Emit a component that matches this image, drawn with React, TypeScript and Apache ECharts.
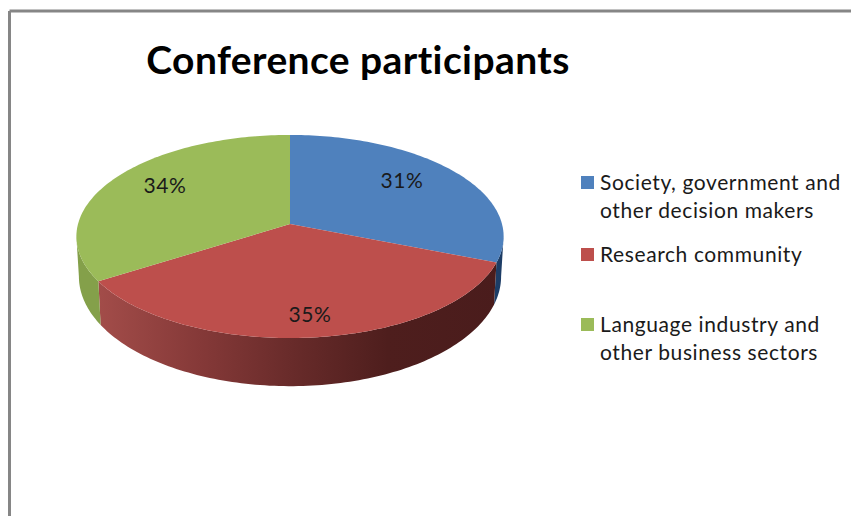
import React, { useEffect, useRef } from "react";
import * as echarts from "echarts";

const titleText = "Conference participants";
const categories = [
  "Society, government and\nother decision makers",
  "Research community",
  "Language industry and\nother business sectors",
];
const values = [31, 35, 34];
const topColors = ["#4f81bd", "#bd4f4c", "#9bbb59"];

const FONT = "Lato";
const CX = 290, AY = 224, A = 212, B = 100, K = -0.123;
const A2 = 209.5, B2 = 108, AY2 = 263;
const total = values.reduce((a, b) => a + b, 0);
const labelPos = [[402, 179], [310, 313], [165, 184]];
const legendY = [182, 254, 324];

const rim = (t: number): [number, number] => {
  const w = 1 - K * Math.cos(t);
  return [CX + (A * Math.sin(t)) / w, AY + (-B * Math.cos(t)) / w];
};
const lower = (t: number): [number, number] => {
  const w = 1 - K * Math.cos(t);
  return [CX + (A2 * Math.sin(t)) / w, AY2 + (-B2 * Math.cos(t)) / w];
};
const arcs = (i: number) => {
  const before = values.slice(0, i).reduce((a, b) => a + b, 0);
  return [(before / total) * 2 * Math.PI, ((before + values[i]) / total) * 2 * Math.PI];
};
const sample = (a: number, b: number, f: (t: number) => [number, number]) => {
  const n = Math.max(2, Math.ceil((b - a) / 0.02));
  const out: [number, number][] = [];
  for (let j = 0; j <= n; j++) out.push(f(a + ((b - a) * j) / n));
  return out;
};
const sideFills = () => [
  "#1d3d66",
  new echarts.graphic.LinearGradient(100, 0, 500, 0, [
    { offset: 0, color: "#a24c49" },
    { offset: 0.25, color: "#853938" },
    { offset: 0.5, color: "#662a29" },
    { offset: 0.72, color: "#4e1e1d" },
    { offset: 1, color: "#4a1c1c" },
  ], true),
  "#84a04a",
];

export default function App() {
  const ref = useRef<HTMLDivElement>(null);
  useEffect(() => {
    const chart = echarts.init(ref.current!, null, { renderer: "svg" });
    const fills = sideFills();
    const tR = Math.acos(K), tL = 2 * Math.PI - tR;
    const seriesData = categories.map((name, i) => ({ name, value: values[i] }));
    const legendEls: any[] = [];
    categories.forEach((c, i) => {
      legendEls.push({
        type: "rect", shape: { x: 581, y: legendY[i] - 6, width: 13, height: 13 },
        style: { fill: topColors[i] },
      });
      legendEls.push({
        type: "text", x: 600, y: legendY[i] - 15,
        style: { text: c, font: `21px ${FONT}`, lineHeight: 28, fill: "#1a1a1a", textVerticalAlign: "top" },
      });
    });
    chart.setOption({
      animation: false,
      backgroundColor: "#ffffff",
      title: {
        text: titleText, left: 353, top: 34, textAlign: "center",
        textStyle: { fontFamily: FONT, fontWeight: "bold", fontSize: 39, color: "#000000" },
      },
      graphic: [
        { type: "line", shape: { x1: 9.5, y1: 11, x2: 851, y2: 11 }, style: { stroke: "#868686", lineWidth: 3 } },
        { type: "line", shape: { x1: 9.5, y1: 11, x2: 9.5, y2: 516 }, style: { stroke: "#868686", lineWidth: 3 } },
        ...legendEls,
      ],
      series: [
        {
          type: "custom", name: "side", coordinateSystem: "none", z: 1, data: seriesData,
          renderItem: (p: any) => {
            const [a, b] = arcs(p.dataIndex);
            const s = Math.max(a, tR), e = Math.min(b, tL);
            if (e <= s) return { type: "group", children: [] };
            const pts = [...sample(s, e, rim), ...sample(s, e, lower).reverse()];
            return { type: "polygon", shape: { points: pts }, style: { fill: fills[p.dataIndex] } };
          },
        },
        {
          type: "custom", name: "top", coordinateSystem: "none", z: 2, data: seriesData,
          renderItem: (p: any, api: any) => {
            const [a, b] = arcs(p.dataIndex);
            const pts = [[CX, AY], ...sample(a, b, rim)];
            return {
              type: "group",
              children: [
                { type: "polygon", shape: { points: pts }, style: { fill: topColors[p.dataIndex] } },
                {
                  type: "text", x: labelPos[p.dataIndex][0], y: labelPos[p.dataIndex][1], z2: 5,
                  style: {
                    text: `${api.value(0)}%`, font: `21px ${FONT}`, fill: "#1a1a1a",
                    textAlign: "center", textVerticalAlign: "middle",
                  },
                },
              ],
            };
          },
        },
      ],
    });
    return () => chart.dispose();
  }, []);
  return (
    <>
      <style>{`.chart text{letter-spacing:.6px;font-variant-ligatures:none}.chart text[style*="bold"]{letter-spacing:.4px}`}</style>
      <div ref={ref} className="chart" style={{ position: "fixed", left: 0, top: 0, width: 851, height: 516 }} />
    </>
  );
}
